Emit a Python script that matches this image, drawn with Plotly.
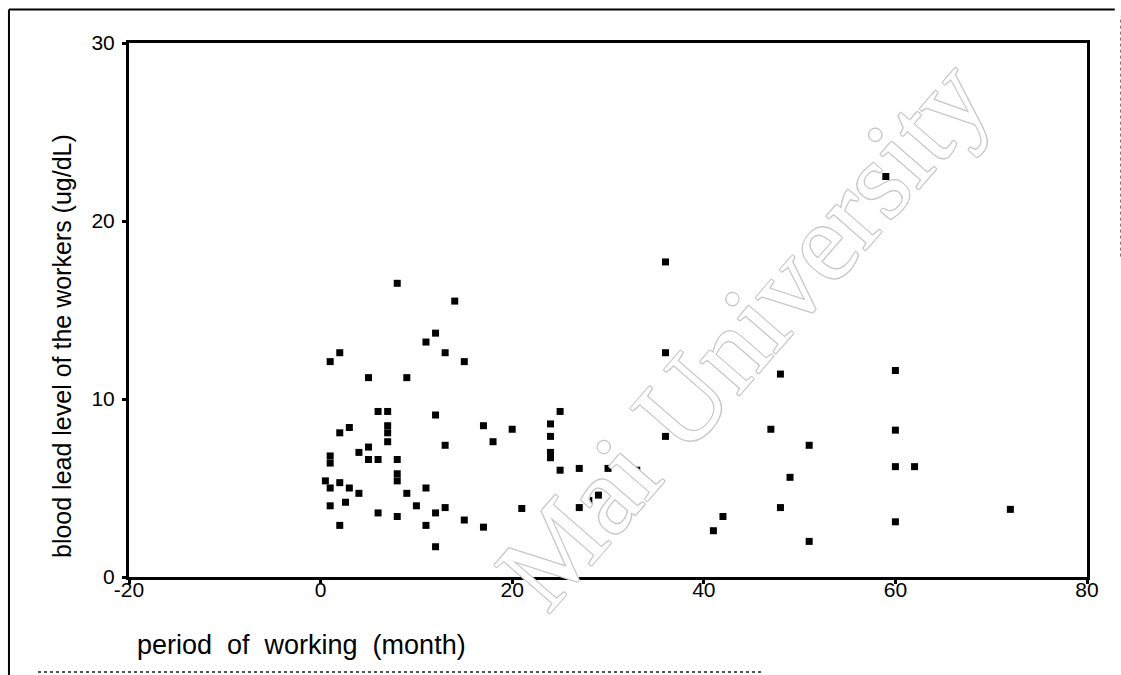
import plotly.graph_objects as go

# period of working (month)
months = [
    8, 14, 12, 11, 13, 15, 2, 1, 5, 9,
    6, 7, 12, 3, 2, 7, 7, 7, 13, 17,
    18, 5, 4, 5, 6, 8, 1, 1, 8, 8,
    0.5, 1, 2, 3, 4, 9, 11, 1, 2.6, 6,
    8, 10, 12, 13, 15, 17, 2, 11, 12,
    25, 20, 24, 24, 24, 24, 25, 27, 30, 33,
    36, 21, 27, 28, 29, 30,
    36, 36, 48, 47, 51, 49, 48, 42, 41, 51,
    59, 60, 60, 60, 62, 60, 72,
]
# blood lead level of the workers (ug/dL)
lead = [
    16.5, 15.5, 13.7, 13.2, 12.6, 12.1, 12.6, 12.1, 11.2, 11.2,
    9.3, 9.3, 9.1, 8.4, 8.1, 8.5, 8.1, 7.6, 7.4, 8.5,
    7.6, 7.3, 7.0, 6.6, 6.6, 6.6, 6.8, 6.4, 5.8, 5.4,
    5.4, 5.0, 5.3, 5.0, 4.7, 4.7, 5.0, 4.0, 4.2, 3.6,
    3.4, 4.0, 3.6, 3.9, 3.2, 2.8, 2.9, 2.9, 1.7,
    9.3, 8.3, 8.6, 7.9, 7.0, 6.7, 6.0, 6.1, 6.1, 6.0,
    7.9, 3.85, 3.9, 4.3, 4.6, 2.9,
    17.7, 12.6, 11.4, 8.3, 7.4, 5.6, 3.9, 3.4, 2.6, 2.0,
    22.5, 11.6, 8.25, 6.2, 6.2, 3.1, 3.8,
]

x_ticks = [-20, 0, 20, 40, 60, 80]
x_tick_labels = ["-20", "0", "20", "40", "60", "80"]
y_ticks = [0, 10, 20, 30]
y_tick_labels = ["0", "10", "20", "30"]

FONT = "Liberation Sans, Arial, sans-serif"

fig = go.Figure()
fig.add_trace(go.Scatter(
    x=months, y=lead, mode="markers",
    marker=dict(symbol="square", size=7, color="black", line=dict(width=0)),
    showlegend=False, hoverinfo="x+y",
))

axis_common = dict(
    showgrid=False, zeroline=False, showline=True, linecolor="black",
    linewidth=3, mirror=True, ticks="outside", ticklen=4, tickwidth=3,
    tickcolor="black", tickfont=dict(family=FONT, size=21, color="black"),
)
fig.update_xaxes(range=[-20, 80], tickvals=x_ticks, ticktext=x_tick_labels,
                 ticklabelstandoff=-12, **axis_common)
fig.update_yaxes(range=[0, 30], tickvals=y_ticks, ticktext=y_tick_labels,
                 ticklabelstandoff=3, **axis_common)

outline = ", ".join(f"{dx}px {dy}px 0 #c8c8c8" for dx, dy in
                    [(1, 0), (-1, 0), (0, 1), (0, -1), (1, 1), (-1, -1), (1, -1), (-1, 1)])

fig.update_layout(
    width=1121, height=675,
    margin=dict(l=129, r=34, t=43, b=98),
    paper_bgcolor="white", plot_bgcolor="white",
    font=dict(family=FONT, color="black"),
    annotations=[
        dict(text="Mai University", xref="paper", yref="paper",
             x=0.64, y=0.455, textangle=-49, showarrow=False,
             xanchor="center", yanchor="middle",
             font=dict(family="Liberation Serif, Times New Roman, serif", size=112,
                       color="white", shadow=outline)),
        dict(text="blood lead level of the workers (ug/dL)", xref="paper", yref="paper",
             x=-0.0699, y=0.4326, textangle=-90, showarrow=False,
             xanchor="center", yanchor="middle",
             font=dict(family=FONT, size=25, color="black")),
        dict(text="period\u00a0\u00a0of\u00a0\u00a0working\u00a0\u00a0(month)", xref="paper", yref="paper",
             x=0.006, y=-0.127, showarrow=False, xanchor="left", yanchor="middle",
             font=dict(family=FONT, size=27, color="black")),
    ],
    shapes=[
        dict(type="line", xref="paper", yref="paper", x0=-0.1253, x1=-0.1253, y0=-0.19, y1=1.0627,
             line=dict(color="black", width=2)),
        dict(type="line", xref="paper", yref="paper", x0=-0.1253, x1=1.029, y0=1.0627, y1=1.0627,
             line=dict(color="black", width=2)),
        dict(type="line", xref="paper", yref="paper", x0=1.035, x1=1.035, y0=0.6, y1=1.05,
             line=dict(color="#777", width=1, dash="dot")),
        dict(type="line", xref="paper", yref="paper", x0=-0.095, x1=0.66, y0=-0.178, y1=-0.178,
             line=dict(color="#555", width=2, dash="dot")),
    ],
)

fig.write_html("out.html", config={"displayModeBar": False},
               post_script="document.body.style.margin='0';")
